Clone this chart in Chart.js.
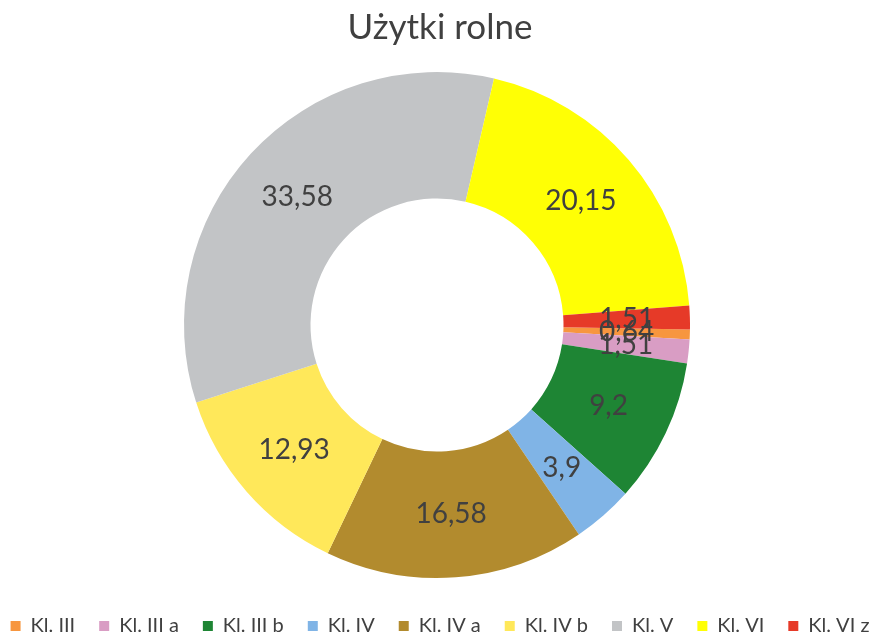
<!DOCTYPE html>
<html>
<head>
<meta charset="utf-8">
<script src="https://cdn.jsdelivr.net/npm/chart.js@4"></script>
<style>
  html, body { margin: 0; padding: 0; background: #fff; }
  #wrap { width: 874px; height: 634px; }
</style>
</head>
<body>
<div id="wrap"><canvas id="donut"></canvas></div>
<script>
// data (percent of agricultural land)
var classes = ["Kl. III", "Kl. III a", "Kl. III b", "Kl. IV", "Kl. IV a", "Kl. IV b", "Kl. V", "Kl. VI", "Kl. VI z"];
var shares = [0.64, 1.51, 9.2, 3.9, 16.58, 12.93, 33.58, 20.15, 1.51];
var colours = ["#F7963F", "#D99DC4", "#1E8534", "#80B4E6", "#B28B2E", "#FFE85A", "#C2C4C6", "#FFFF05", "#E63A28"];

// writes the value of every slice in its middle, with a decimal comma
var sliceLabels = {
  id: "sliceLabels",
  afterDatasetsDraw: function(chart) {
    var ctx = chart.ctx;
    var meta = chart.getDatasetMeta(0);
    ctx.save();
    ctx.font = "28px Lato";
    ctx.fillStyle = "#404040";
    ctx.textAlign = "center";
    ctx.textBaseline = "middle";
    meta.data.forEach(function(arc, i) {
      var pos = arc.tooltipPosition();
      ctx.fillText(String(shares[i]).replace(".", ","), pos.x, pos.y);
    });
    ctx.restore();
  }
};

// legend sits lower in the original, almost on the bottom edge
var legendDown = {
  id: "legendDown",
  afterLayout: function(chart) {
    chart.legend.top += 14;
    chart.legend.bottom += 14;
  }
};

new Chart(document.getElementById("donut"), {
  type: "doughnut",
  data: {
    labels: classes,
    datasets: [{
      data: shares,
      backgroundColor: colours,
      borderWidth: 0
    }]
  },
  options: {
    responsive: true,
    maintainAspectRatio: false,
    animation: false,
    rotation: 91,
    cutout: "50%",
    // negative sides give the one-row legend enough room
    layout: { padding: { left: -16, right: -22, top: 0, bottom: 2 } },
    plugins: {
      title: {
        display: true,
        text: "Użytki rolne",
        color: "#404040",
        font: { family: "Lato", size: 35, weight: "normal" },
        padding: { top: 7, bottom: 23 }
      },
      legend: {
        position: "bottom",
        labels: {
          color: "#404040",
          font: { family: "Lato", size: 20 },
          boxWidth: 10,
          boxHeight: 10,
          padding: 24
        }
      },
      tooltip: { enabled: false }
    }
  },
  plugins: [sliceLabels, legendDown]
});
</script>
</body>
</html>
